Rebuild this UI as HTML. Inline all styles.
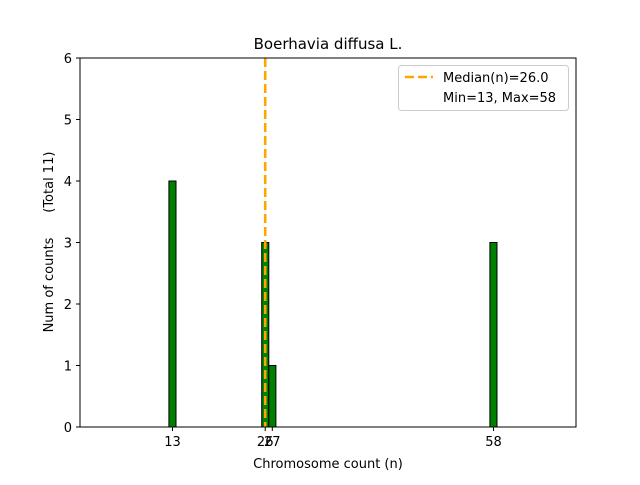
<!DOCTYPE html>
<html><head><meta charset="utf-8"><style>body{margin:0;background:#fff}</style></head><body>
<svg width="640" height="480" xmlns="http://www.w3.org/2000/svg" font-family="DejaVu Sans, Liberation Sans, sans-serif">
<rect width="640" height="480" fill="#fff"/>
<g fill="green" stroke="#000" stroke-width="1">
<rect x="168.9" y="181" width="7.1" height="246"/>
<rect x="261.7" y="242.5" width="7.1" height="184.5"/>
<rect x="268.8" y="365.5" width="7.1" height="61.5"/>
<rect x="489.9" y="242.5" width="7.1" height="184.5"/>
</g>
<line x1="265.2" y1="58" x2="265.2" y2="427" stroke="orange" stroke-width="2.6" stroke-dasharray="9,4"/>
<rect x="80" y="58" width="496" height="369" fill="none" stroke="#000" stroke-width="1"/>
<g stroke="#000">
<line x1="80" x2="76" y1="427" y2="427"/><line x1="80" x2="76" y1="365.5" y2="365.5"/><line x1="80" x2="76" y1="304" y2="304"/><line x1="80" x2="76" y1="242.5" y2="242.5"/><line x1="80" x2="76" y1="181" y2="181"/><line x1="80" x2="76" y1="119.5" y2="119.5"/><line x1="80" x2="76" y1="58" y2="58"/>
<line x1="172.5" x2="172.5" y1="427" y2="431"/><line x1="265.2" x2="265.2" y1="427" y2="431"/><line x1="272.3" x2="272.3" y1="427" y2="431"/><line x1="493.5" x2="493.5" y1="427" y2="431"/>
</g>
<g font-size="13" text-anchor="end">
<text x="72" y="432">0</text><text x="72" y="370.5">1</text><text x="72" y="309">2</text><text x="72" y="247.5">3</text><text x="72" y="186">4</text><text x="72" y="124.5">5</text><text x="72" y="63">6</text>
</g>
<g font-size="13" text-anchor="middle">
<text x="172.5" y="446">13</text><text x="265.2" y="446">26</text><text x="272.3" y="446">27</text><text x="493.5" y="446">58</text>
<text x="328" y="468">Chromosome count (n)</text>
<text x="328" y="49" font-size="15">Boerhavia diffusa L.</text>
<text transform="translate(53,242) rotate(-90)" style="white-space:pre">Num of counts      (Total 11)</text>
</g>
<rect x="398.5" y="65.5" width="170" height="45" rx="3" fill="#fff" stroke="#ccc"/>
<line x1="405" x2="433" y1="77" y2="77" stroke="orange" stroke-width="2.6" stroke-dasharray="9,4"/>
<text x="443" y="82" font-size="13">Median(n)=26.0</text>
<text x="443" y="102" font-size="13">Min=13, Max=58</text>
</svg>
</body></html>
